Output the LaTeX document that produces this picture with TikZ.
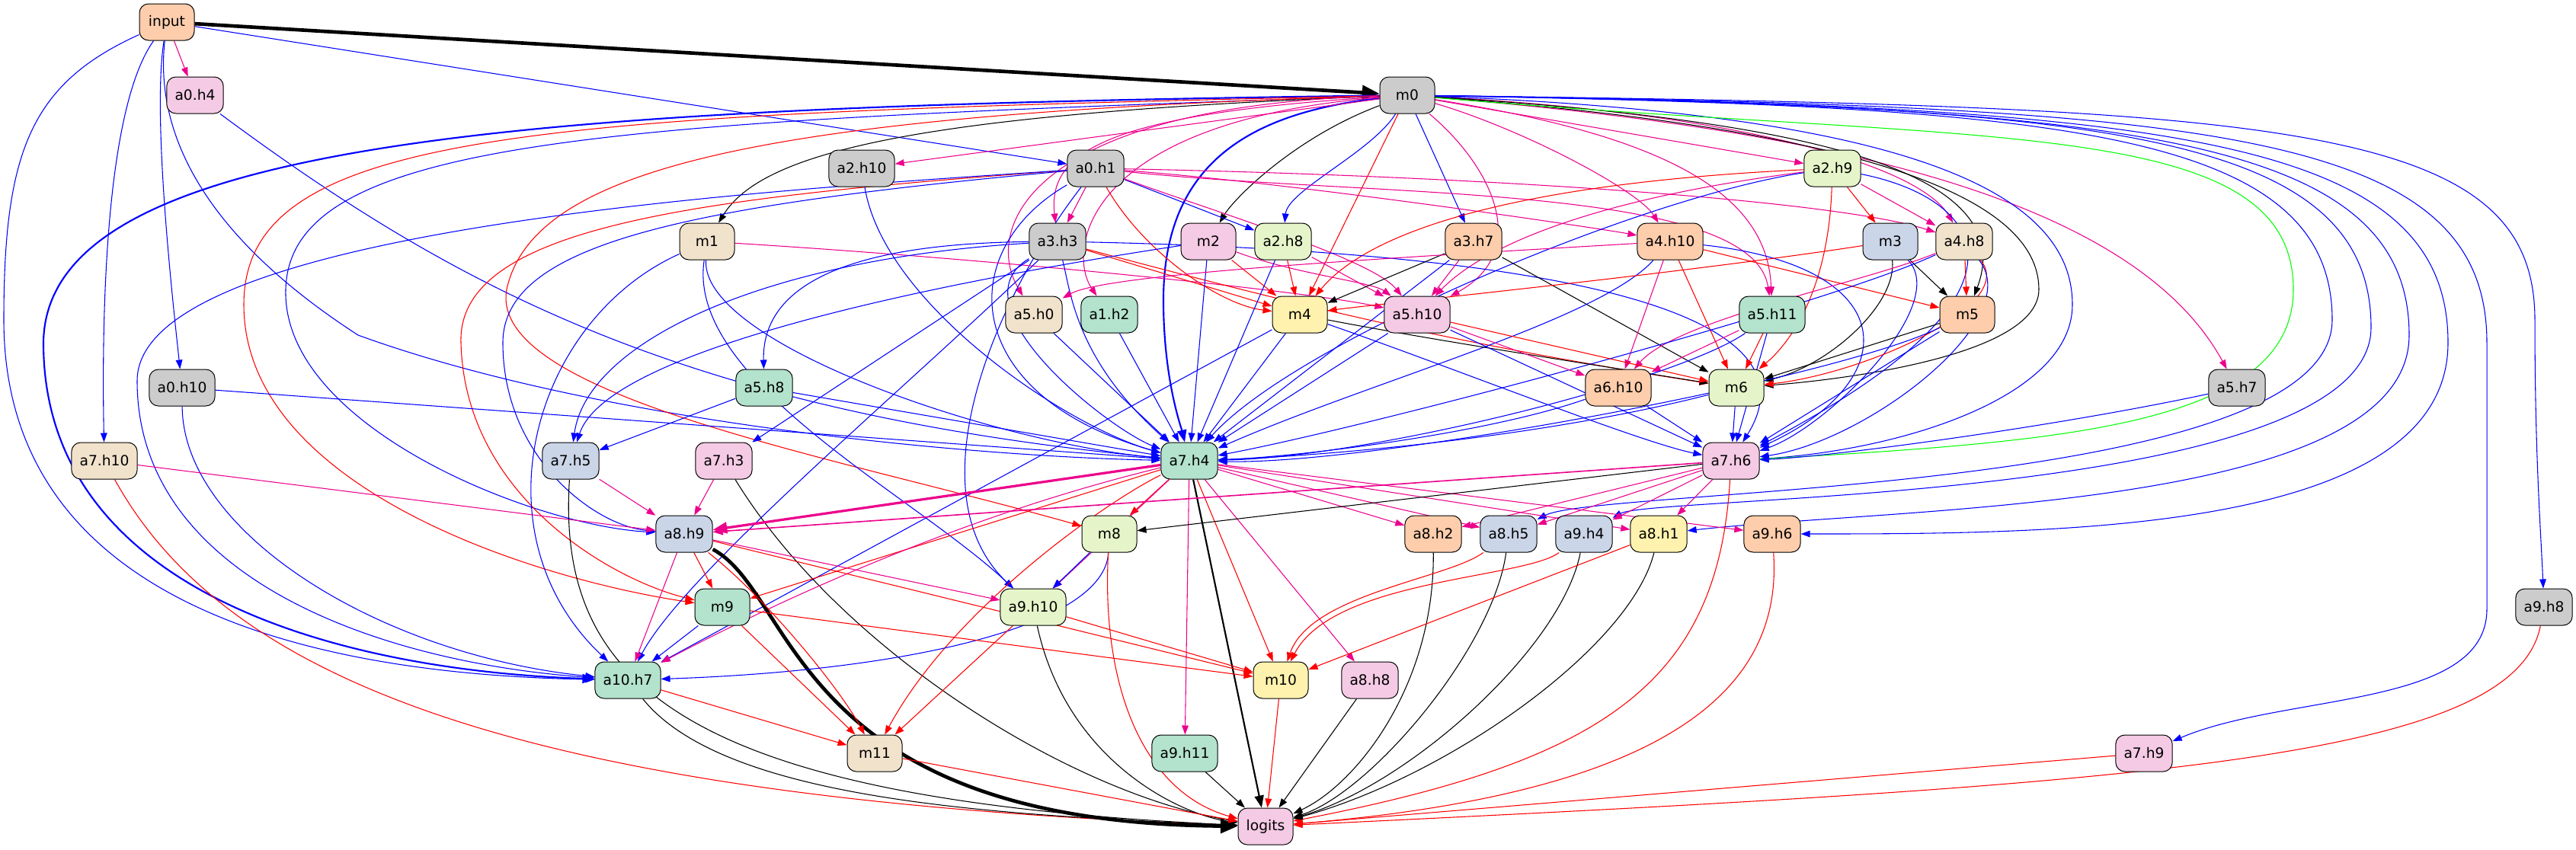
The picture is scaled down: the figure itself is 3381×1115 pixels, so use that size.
\documentclass[tikz,border=0pt]{standalone}
\usepackage{fontspec}
\setmainfont{DejaVu Sans}
\usepackage{xcolor}
\usetikzlibrary{arrows.meta,backgrounds}
\definecolor{cgray}{HTML}{CCCCCC}
\definecolor{cpeach}{HTML}{FDCDAC}
\definecolor{cmint}{HTML}{B3E2CD}
\definecolor{cblue}{HTML}{CBD5E8}
\definecolor{cpink}{HTML}{F4CAE4}
\definecolor{cgreen}{HTML}{E6F5C9}
\definecolor{cyellow}{HTML}{FFF2AE}
\definecolor{cbeige}{HTML}{F1E2CC}
\tikzset{
	>={Triangle[length=9pt,width=6.5pt]},
	cell/.style={
			draw, line width=0.75pt, rounded corners=9pt,
			minimum width=54pt, minimum height=36pt, inner xsep=8pt,
			font=\fontsize{14pt}{16pt}\selectfont
		},
	eb/.style={->, line width=0.8pt, blue},
	er/.style={->, line width=0.8pt, red},
	em/.style={->, line width=0.8pt, magenta},
	ek/.style={->, line width=0.8pt, black},
	eg/.style={->, line width=0.8pt, green},
	fatline/.style={line width=3.5pt, -{Triangle[length=17pt,width=14pt]}},
	broadline/.style={line width=2.4pt, -{Triangle[length=14pt,width=11pt]}},
	wideline/.style={line width=1.6pt, -{Triangle[length=12pt,width=9pt]}},
	midline/.style={line width=1.2pt, -{Triangle[length=10pt,width=7.5pt]}}
}

\begin{document}
\begin{tikzpicture}[x=0.75pt, y=-0.75pt]
		\useasboundingbox (0,0) rectangle (3381,1115);

		% Nodes, row by row
		\node[cell, fill=cpeach] (input) at (219,29) {input};
		\node[cell, fill=cpink] (a0h4) at (256,125) {a0.h4};
		\node[cell, fill=cgray] (m0) at (1847,125) {m0};
		\node[cell, fill=cgray] (a2h10) at (1131,221) {a2.h10};
		\node[cell, fill=cgray] (a0h1) at (1438,221) {a0.h1};
		\node[cell, fill=cgreen] (a2h9) at (2405,221) {a2.h9};
		\node[cell, fill=cbeige] (m1) at (928,317) {m1};
		\node[cell, fill=cgray] (a3h3) at (1388,317) {a3.h3};
		\node[cell, fill=cpink] (m2) at (1586,317) {m2};
		\node[cell, fill=cgreen] (a2h8) at (1684,317) {a2.h8};
		\node[cell, fill=cpeach] (a3h7) at (1934,317) {a3.h7};
		\node[cell, fill=cpeach] (a4h10) at (2192,317) {a4.h10};
		\node[cell, fill=cblue] (m3) at (2481,317) {m3};
		\node[cell, fill=cbeige] (a4h8) at (2578,317) {a4.h8};
		\node[cell, fill=cbeige] (a5h0) at (1357,413) {a5.h0};
		\node[cell, fill=cmint] (a1h2) at (1456,413) {a1.h2};
		\node[cell, fill=cyellow] (m4) at (1706,413) {m4};
		\node[cell, fill=cpink] (a5h10) at (1860,413) {a5.h10};
		\node[cell, fill=cmint] (a5h11) at (2326,413) {a5.h11};
		\node[cell, fill=cpeach] (m5) at (2582,413) {m5};
		\node[cell, fill=cgray] (a0h10) at (239,509) {a0.h10};
		\node[cell, fill=cmint] (a5h8) at (1003,509) {a5.h8};
		\node[cell, fill=cpeach] (a6h10) at (2124,509) {a6.h10};
		\node[cell, fill=cgreen] (m6) at (2279,509) {m6};
		\node[cell, fill=cgray] (a5h7) at (2936,509) {a5.h7};
		\node[cell, fill=cbeige] (a7h10) at (137,605) {a7.h10};
		\node[cell, fill=cblue] (a7h5) at (749,605) {a7.h5};
		\node[cell, fill=cpink] (a7h3) at (950,605) {a7.h3};
		\node[cell, fill=cmint] (a7h4) at (1561,605) {a7.h4};
		\node[cell, fill=cpink] (a7h6) at (2272,605) {a7.h6};
		\node[cell, fill=cblue] (a8h9) at (898,701) {a8.h9};
		\node[cell, fill=cgreen] (m8) at (1456,701) {m8};
		\node[cell, fill=cpeach] (a8h2) at (1881,701) {a8.h2};
		\node[cell, fill=cblue] (a8h5) at (1980,701) {a8.h5};
		\node[cell, fill=cblue] (a9h4) at (2079,701) {a9.h4};
		\node[cell, fill=cyellow] (a8h1) at (2177,701) {a8.h1};
		\node[cell, fill=cpeach] (a9h6) at (2326,701) {a9.h6};
		\node[cell, fill=cmint] (m9) at (948,797) {m9};
		\node[cell, fill=cgreen] (a9h10) at (1356,797) {a9.h10};
		\node[cell, fill=cgray] (a9h8) at (3339,797) {a9.h8};
		\node[cell, fill=cmint] (a10h7) at (824,893) {a10.h7};
		\node[cell, fill=cyellow] (m10) at (1681,893) {m10};
		\node[cell, fill=cpink] (a8h8) at (1798,893) {a8.h8};
		\node[cell, fill=cbeige] (m11) at (1148,989) {m11};
		\node[cell, fill=cmint] (a9h11) at (1555,989) {a9.h11};
		\node[cell, fill=cpink] (a7h9) at (2814,989) {a7.h9};
		\node[cell, fill=cpink] (logits) at (1661,1085) {logits};

		\begin{pgfonlayer}{background}
		% Edges out of input
		\draw[ek, fatline] (input) -- (m0);
		\draw[em] (input) -- (a0h4);
		\draw[eb] (input) -- (a0h1);
		\draw[eb] (input) .. controls (200,150) and (225,380) .. (a0h10);
		\draw[eb] (input) .. controls (140,140) and (133,400) .. (a7h10);
		\draw[eb] (input) .. controls (200,200) and (300,330) .. (470,440) .. controls (800,560) and (1300,600) .. (a7h4);
		\draw[eb] (input) .. controls (40,110) and (5,200) .. (5,420) .. controls (5,790) and (400,885) .. (a10h7);
		\draw[eb] (a0h4) .. controls (600,380) and (900,540) .. (a7h4);

		% Edges out of m0, left side
		\draw[eb, wideline] (m0) .. controls (700,140) and (60,180) .. (57,450) .. controls (57,780) and (450,880) .. (a10h7);
		\draw[eb] (m0) .. controls (800,160) and (380,180) .. (375,380) .. controls (370,560) and (700,690) .. (a8h9);
		\draw[er] (m0) .. controls (700,150) and (320,170) .. (320,400) .. controls (320,640) and (700,760) .. (m9);
		\draw[er] (m0) .. controls (1000,150) and (700,220) .. (665,380) .. controls (640,520) and (1100,600) .. (m8);
		\draw[eb, wideline] (m0) .. controls (1620,150) and (1525,230) .. (1527,400) .. controls (1528,500) and (1550,560) .. (a7h4);
		\draw[ek] (m0) .. controls (1200,150) and (1000,200) .. (m1);
		\draw[em] (m0) -- (a2h10);
		\draw[em] (m0) .. controls (1450,150) and (1375,200) .. (a3h3);
		\draw[em] (m0) .. controls (1350,140) and (1290,300) .. (a5h0);
		\draw[em] (m0) .. controls (1420,160) and (1400,330) .. (a1h2);
		\draw[ek] (m0) .. controls (1700,180) and (1620,260) .. (m2);
		\draw[eb] (m0) .. controls (1800,200) and (1690,250) .. (a2h8);
		\draw[er] (m0) -- (m4);
		\draw[eb] (m0) -- (a3h7);

		% Edges out of m0, right side
		\draw[em] (m0) .. controls (1960,220) and (2010,330) .. (a5h10);
		\draw[em] (m0) .. controls (2000,170) and (2150,250) .. (a4h10);
		\draw[em] (m0) .. controls (2200,180) and (2320,260) .. (a5h11);
		\draw[em] (m0) -- (a2h9);
		\draw[em] (m0) .. controls (2300,150) and (2520,220) .. (a4h8);
		\draw[em] (m0) .. controls (2400,170) and (2800,260) .. (a5h7);
		\draw[ek] (m0) .. controls (2400,160) and (2650,230) .. (m5);
		\draw[ek] (m0) .. controls (2450,170) and (2676,260) .. (2676,380) .. controls (2676,470) and (2400,500) .. (m6);
		\draw[eb] (m0) .. controls (2500,150) and (2720,250) .. (2720,400) .. controls (2720,520) and (2500,590) .. (a7h6);
		\draw[eg] (m0) .. controls (2600,190) and (3010,150) .. (3010,380) .. controls (3010,560) and (2700,580) .. (a7h6);
		\draw[eb] (m0) .. controls (2700,140) and (3061,170) .. (3061,420) .. controls (3061,650) and (2100,640) .. (a8h5);
		\draw[eb] (m0) .. controls (2750,140) and (3112,170) .. (3112,430) .. controls (3112,660) and (2170,650) .. (a9h4);
		\draw[eb] (m0) .. controls (2800,140) and (3162,180) .. (3162,440) .. controls (3162,670) and (2500,665) .. (a8h1);
		\draw[eb] (m0) .. controls (2850,140) and (3213,180) .. (3213,450) .. controls (3213,700) and (2700,701) .. (a9h6);
		\draw[eb] (m0) .. controls (2900,140) and (3264,170) .. (3264,450) -- (3264,800) .. controls (3264,930) and (3000,910) .. (a7h9);
		\draw[eb] (m0) .. controls (3000,140) and (3327,160) .. (3327,420) .. controls (3327,600) and (3335,700) .. (a9h8);

		% Edges out of a0.h1
		\draw[em] (a0h1) -- (a3h3);
		\draw[eb] (a0h1) -- (a2h8);
		\draw[er] (a0h1) .. controls (1500,330) and (1600,400) .. (m4);
		\draw[em] (a0h1) .. controls (1700,240) and (2100,300) .. (a4h10);
		\draw[em] (a0h1) .. controls (1900,230) and (2400,260) .. (a4h8);
		\draw[em] (a0h1) .. controls (1800,260) and (2300,240) .. (a5h11);
		\draw[em] (a0h1) .. controls (1600,280) and (1800,340) .. (a5h10);
		\draw[eb] (a0h1) .. controls (1250,330) and (1260,520) .. (a7h4);
		\draw[eb] (a0h1) .. controls (900,270) and (660,320) .. (660,450) .. controls (660,600) and (780,690) .. (a8h9);
		\draw[er] (a0h1) .. controls (900,260) and (600,300) .. (605,450) .. controls (610,650) and (800,760) .. (m9);
		\draw[eb] (a0h1) .. controls (1000,250) and (180,300) .. (180,500) .. controls (180,760) and (500,870) .. (a10h7);
		\draw[eb] (a0h1) .. controls (1300,400) and (1200,650) .. (a9h10);
		\draw[eb] (a2h10) .. controls (1160,400) and (1400,560) .. (a7h4);

		% Edges out of a2.h9
		\draw[er] (a2h9) -- (m3);
		\draw[em] (a2h9) -- (a4h8);
		\draw[er] (a2h9) .. controls (2000,240) and (1800,300) .. (m4);
		\draw[em] (a2h9) .. controls (2100,260) and (1950,320) .. (a5h10);
		\draw[eb] (a2h9) .. controls (2150,260) and (1700,450) .. (a7h4);
		\draw[er] (a2h9) .. controls (2400,380) and (2350,450) .. (m6);
		\draw[eb] (a2h9) .. controls (2600,260) and (2700,380) .. (a7h6);

		% Edges out of the row of m1
		\draw[em] (m1) .. controls (1300,340) and (1700,380) .. (a5h10);
		\draw[eb] (m1) .. controls (920,450) and (1300,580) .. (a7h4);
		\draw[eb] (m1) .. controls (900,500) and (1200,650) .. (a9h10);
		\draw[eb] (m1) .. controls (700,420) and (620,700) .. (a10h7);
		\draw[eb] (a3h3) .. controls (1405,380) and (1410,470) .. (a7h4);
		\draw[eb] (a3h3) .. controls (1250,400) and (1450,560) .. (a7h4);
		\draw[eb] (a3h3) .. controls (1100,320) and (1000,380) .. (a5h8);
		\draw[eb] (a3h3) .. controls (1000,340) and (770,450) .. (a7h5);
		\draw[eb] (a3h3) -- (a7h3);
		\draw[eb] (a3h3) .. controls (1200,500) and (900,750) .. (a10h7);
		\draw[er] (a3h3) -- (m4);
		\draw[er] (a3h3) .. controls (1700,400) and (1900,450) .. (m6);
		\draw[eb] (a3h3) .. controls (2000,330) and (2400,400) .. (a7h6);
		\draw[er] (m2) -- (m4);
		\draw[eb] (m2) -- (a7h4);
		\draw[em] (m2) .. controls (1700,360) and (1800,370) .. (a5h10);
		\draw[eb] (m2) .. controls (1300,360) and (800,450) .. (a7h5);
		\draw[er] (a2h8) -- (m4);
		\draw[eb] (a2h8) -- (a7h4);
		\draw[em] (a2h8) -- (a5h10);
		\draw[ek] (a3h7) -- (m4);
		\draw[eb] (a3h7) -- (a7h4);
		\draw[em] (a3h7) -- (a5h10);
		\draw[ek] (a3h7) -- (m6);
		\draw[em] (a4h10) .. controls (1800,340) and (1450,360) .. (a5h0);
		\draw[eb] (a4h10) .. controls (2100,420) and (1800,500) .. (a7h4);
		\draw[em] (a4h10) -- (a6h10);
		\draw[er] (a4h10) -- (m6);
		\draw[er] (a4h10) -- (m5);
		\draw[eb] (a4h10) .. controls (2500,350) and (2500,500) .. (a7h6);
		\draw[er] (m3) .. controls (2200,360) and (1800,400) .. (m4);
		\draw[ek] (m3) .. controls (2490,400) and (2400,480) .. (m6);
		\draw[ek] (m3) -- (m5);
		\draw[eb] (m3) .. controls (2560,400) and (2400,560) .. (a7h6);
		\draw[er] (a4h8) -- (m5);
		\draw[er] (a4h8) .. controls (2650,400) and (2450,490) .. (m6);
		\draw[em] (a4h8) .. controls (2450,370) and (2200,420) .. (a6h10);
		\draw[eb] (a4h8) .. controls (2660,420) and (2450,580) .. (a7h6);
		\draw[eb] (a4h8) .. controls (2400,400) and (1800,560) .. (a7h4);

		% Edges out of the row of m4
		\draw[eb] (a5h0) -- (a7h4);
		\draw[eb] (a1h2) -- (a7h4);
		\draw[eb] (m4) -- (a7h4);
		\draw[ek] (m4) .. controls (1900,450) and (2100,480) .. (m6);
		\draw[eb] (m4) .. controls (1900,480) and (2150,580) .. (a7h6);
		\draw[eb] (m4) -- (a10h7);
		\draw[eb] (a5h10) -- (a7h4);
		\draw[em] (a5h10) -- (a6h10);
		\draw[er] (a5h10) -- (m6);
		\draw[eb] (a5h10) -- (a7h6);
		\draw[em] (a5h11) -- (a6h10);
		\draw[er] (a5h11) -- (m6);
		\draw[eb] (a5h11) -- (a7h6);
		\draw[eb] (a5h11) .. controls (2200,500) and (1800,600) .. (a7h4);
		\draw[ek] (m5) -- (m6);
		\draw[eb] (m5) -- (a7h6);
		\draw[eb] (m5) .. controls (2400,500) and (1800,610) .. (a7h4);

		% Edges out of the row of m6
		\draw[eb] (a0h10) -- (a7h4);
		\draw[eb] (a0h10) .. controls (240,700) and (500,860) .. (a10h7);
		\draw[eb] (a5h8) -- (a7h4);
		\draw[eb] (a5h8) -- (a7h5);
		\draw[eb] (a6h10) -- (a7h6);
		\draw[eb] (a6h10) .. controls (1950,570) and (1700,600) .. (a7h4);
		\draw[eb] (m6) -- (a7h6);
		\draw[eb] (m6) .. controls (2000,580) and (1700,600) .. (a7h4);
		\draw[eb] (a5h7) .. controls (2700,560) and (2400,600) .. (a7h6);

		% Edges out of layer 7
		\draw[em] (a7h10) -- (a8h9);
		\draw[er] (a7h10) .. controls (300,900) and (700,1050) .. (logits);
		\draw[em] (a7h5) -- (a8h9);
		\draw[ek] (a7h5) .. controls (730,900) and (900,1050) .. (logits);
		\draw[em] (a7h3) -- (a8h9);
		\draw[ek] (a7h3) .. controls (1100,850) and (1400,1040) .. (logits);
		\draw[em, broadline] (a7h4) -- (a8h9);
		\draw[er] (a7h4) -- (m8);
		\draw[er] (a7h4) -- (m9);
		\draw[em] (a7h4) .. controls (1250,680) and (1000,800) .. (a10h7);
		\draw[em] (a7h4) -- (a9h10);
		\draw[er] (a7h4) .. controls (1450,660) and (1250,800) .. (m11);
		\draw[er] (a7h4) -- (m10);
		\draw[em] (a7h4) -- (a9h11);
		\draw[em] (a7h4) -- (a8h8);
		\draw[em] (a7h4) -- (a8h2);
		\draw[em] (a7h4) -- (a8h5);
		\draw[em] (a7h4) -- (a8h1);
		\draw[em] (a7h4) -- (a9h6);
		\draw[ek, wideline] (a7h4) -- (logits);
		\draw[em, midline] (a7h6) -- (a8h9);
		\draw[ek] (a7h6) -- (m8);
		\draw[em] (a7h6) -- (a8h2);
		\draw[em] (a7h6) -- (a8h5);
		\draw[em] (a7h6) -- (a9h4);
		\draw[em] (a7h6) -- (a8h1);
		\draw[er] (a7h6) .. controls (2255,900) and (2100,1000) .. (logits);

		% Edges out of layer 8
		\draw[ek, fatline] (a8h9) .. controls (1045,780) and (1040,1080) .. (logits);
		\draw[er] (a8h9) -- (m9);
		\draw[em] (a8h9) -- (a10h7);
		\draw[em] (a8h9) -- (a9h10);
		\draw[er] (a8h9) -- (m10);
		\draw[er] (a8h9) .. controls (1000,780) and (1100,900) .. (m11);
		\draw[eb] (m8) -- (a9h10);
		\draw[eb] (m8) .. controls (1450,820) and (1200,880) .. (a10h7);
		\draw[er] (m8) .. controls (1445,900) and (1500,1040) .. (logits);
		\draw[ek] (a8h2) .. controls (1883,900) and (1780,1030) .. (logits);
		\draw[er] (a8h5) .. controls (1900,760) and (1720,780) .. (m10);
		\draw[ek] (a8h5) .. controls (1960,850) and (1800,1040) .. (logits);
		\draw[er] (a9h4) .. controls (2000,760) and (1750,760) .. (m10);
		\draw[ek] (a9h4) .. controls (2050,850) and (1850,1030) .. (logits);
		\draw[er] (a8h1) -- (m10);
		\draw[ek] (a8h1) .. controls (2140,850) and (1900,1020) .. (logits);
		\draw[er] (a9h6) .. controls (2340,900) and (2200,1040) .. (logits);

		% Last layers into logits
		\draw[eb] (m9) -- (a10h7);
		\draw[er] (m9) -- (m10);
		\draw[er] (m9) -- (m11);
		\draw[er] (a9h10) -- (m10);
		\draw[er] (a9h10) -- (m11);
		\draw[ek] (a9h10) .. controls (1400,1000) and (1550,1070) .. (logits);
		\draw[er] (a10h7) -- (m11);
		\draw[ek] (a10h7) .. controls (950,1050) and (1300,1070) .. (logits);
		\draw[er] (m10) -- (logits);
		\draw[ek] (a8h8) -- (logits);
		\draw[er] (m11) -- (logits);
		\draw[ek] (a9h11) -- (logits);
		\draw[er] (a7h9) -- (logits);
		\draw[er] (a9h8) .. controls (3300,1000) and (2800,1030) .. (logits);
		\end{pgfonlayer}
	\end{tikzpicture}
\end{document}
